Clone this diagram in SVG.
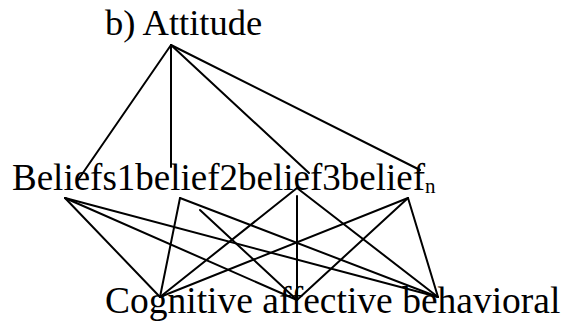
<svg xmlns="http://www.w3.org/2000/svg" width="561" height="322" viewBox="0 0 561 322">
<style>
.t{font-family:"Liberation Serif","Times New Roman","DejaVu Serif",serif;fill:#000}
.c line{stroke:#000;stroke-width:2;stroke-linecap:round}
</style>
<rect width="561" height="322" fill="#fff"/>
<g class="c" id="connectors">
<line x1="171" y1="45" x2="78" y2="180"/>
<line x1="171" y1="45" x2="171" y2="167"/>
<line x1="171" y1="45" x2="309" y2="173"/>
<line x1="171" y1="45" x2="420" y2="170"/>
<line x1="65" y1="198" x2="160" y2="297"/>
<line x1="65" y1="198" x2="297" y2="300"/>
<line x1="65" y1="198" x2="438" y2="297"/>
<line x1="180" y1="198" x2="160" y2="297"/>
<line x1="200" y1="210" x2="297" y2="300"/>
<line x1="180" y1="198" x2="438" y2="297"/>
<line x1="297" y1="188" x2="160" y2="297"/>
<line x1="297" y1="196" x2="297" y2="300"/>
<line x1="297" y1="188" x2="438" y2="297"/>
<line x1="408" y1="198" x2="160" y2="297"/>
<line x1="408" y1="198" x2="297" y2="300"/>
<line x1="408" y1="198" x2="438" y2="297"/>
</g>
<g id="attitude"><text class="t" x="105" y="35" font-size="36.5">b) Attitude</text></g>
<g id="beliefs"><text class="t" x="12" y="190" font-size="37">Beliefs1belief2belief3belief<tspan font-size="21" dy="3">n</tspan></text></g>
<g id="components"><text class="t" x="105" y="313" font-size="37.5">Cognitive affective behavioral</text></g>
</svg>
